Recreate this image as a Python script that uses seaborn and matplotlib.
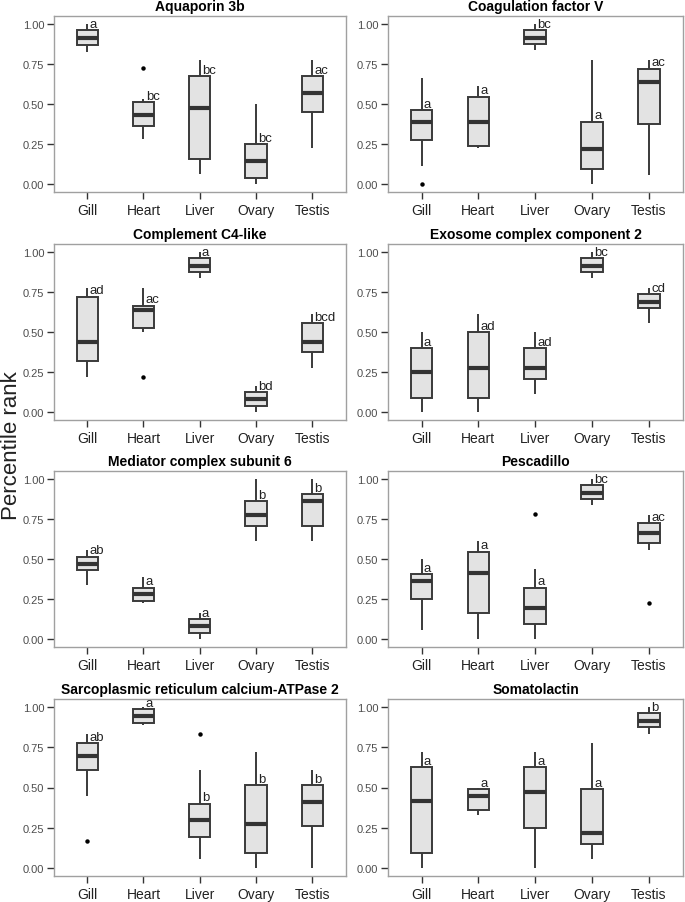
import numpy as np
import pandas as pd
import seaborn as sns
import matplotlib
matplotlib.use("Agg")
import matplotlib.pyplot as plt

tissues = ["Gill", "Heart", "Liver", "Ovary", "Testis"]
genes = ["Aquaporin 3b", "Coagulation factor V", "Complement C4-like",
         "Exosome complex component 2", "Mediator complex subunit 6",
         "Pescadillo", "Sarcoplasmic reticulum calcium-ATPase 2", "Somatolactin"]

# five-number summaries per gene (rows) and tissue (columns)
lo = [[0.825, 0.28, 0.06, 0.00, 0.225],
      [0.115, 0.225, 0.835, 0.00, 0.055],
      [0.22, 0.50, 0.835, 0.00, 0.275],
      [0.00, 0.00, 0.11, 0.835, 0.555],
      [0.335, 0.225, 0.00, 0.61, 0.61],
      [0.055, 0.00, 0.00, 0.835, 0.555],
      [0.445, 0.89, 0.055, 0.00, 0.00],
      [0.00, 0.33, 0.00, 0.055, 0.835]]
q1 = [[0.87, 0.365, 0.155, 0.04, 0.45],
      [0.275, 0.235, 0.875, 0.095, 0.375],
      [0.32, 0.525, 0.875, 0.04, 0.375],
      [0.09, 0.09, 0.205, 0.875, 0.65],
      [0.43, 0.235, 0.04, 0.705, 0.705],
      [0.25, 0.165, 0.095, 0.875, 0.60],
      [0.61, 0.90, 0.19, 0.09, 0.26],
      [0.09, 0.36, 0.25, 0.15, 0.875]]
med = [[0.915, 0.43, 0.475, 0.145, 0.57],
       [0.39, 0.39, 0.915, 0.22, 0.635],
       [0.44, 0.64, 0.915, 0.08, 0.44],
       [0.25, 0.275, 0.275, 0.915, 0.69],
       [0.47, 0.28, 0.08, 0.775, 0.86],
       [0.36, 0.415, 0.195, 0.915, 0.665],
       [0.695, 0.945, 0.30, 0.275, 0.41],
       [0.415, 0.445, 0.47, 0.22, 0.915]]
q3 = [[0.96, 0.51, 0.675, 0.25, 0.675],
      [0.46, 0.545, 0.96, 0.39, 0.72],
      [0.72, 0.665, 0.96, 0.125, 0.555],
      [0.40, 0.50, 0.40, 0.96, 0.735],
      [0.515, 0.32, 0.125, 0.86, 0.905],
      [0.405, 0.545, 0.32, 0.96, 0.725],
      [0.775, 0.985, 0.40, 0.515, 0.515],
      [0.625, 0.49, 0.625, 0.49, 0.96]]
hi = [[1.00, 0.53, 0.775, 0.50, 0.775],
      [0.665, 0.61, 1.00, 0.775, 0.775],
      [0.775, 0.775, 1.00, 0.165, 0.61],
      [0.50, 0.61, 0.50, 1.00, 0.775],
      [0.555, 0.39, 0.165, 1.00, 1.00],
      [0.50, 0.61, 0.44, 1.00, 0.775],
      [0.83, 1.00, 0.61, 0.72, 0.61],
      [0.72, 0.50, 0.72, 0.775, 1.00]]
letters = [["a", "bc", "bc", "bc", "ac"],
           ["a", "a", "bc", "a", "ac"],
           ["ad", "ac", "a", "bd", "bcd"],
           ["a", "ad", "ad", "bc", "cd"],
           ["ab", "a", "a", "b", "b"],
           ["a", "a", "a", "bc", "ac"],
           ["ab", "a", "b", "b", "b"],
           ["a", "a", "a", "a", "b"]]
# outliers: (gene index, tissue, value)
out_gene = [0, 1, 2, 5, 5, 6, 6]
out_tissue = ["Heart", "Gill", "Heart", "Liver", "Testis", "Gill", "Liver"]
out_value = [0.725, 0.0, 0.22, 0.78, 0.225, 0.165, 0.83]

plt.rcParams["font.family"] = ["Liberation Sans", "DejaVu Sans"]
fig = plt.figure(figsize=(6.85, 9.03), dpi=100)

W, H = 685, 903
lefts = [54, 388]
rights = [346, 683]
tops = [17, 245, 472, 700]
bottoms = [193, 421, 648, 877]

for g, gene in enumerate(genes):
    r, c = divmod(g, 2)
    ax = fig.add_axes([lefts[c] / W, 1 - bottoms[r] / H,
                       (rights[c] - lefts[c]) / W, (bottoms[r] - tops[r]) / H])
    rows = []
    for t, tissue in enumerate(tissues):
        for v in (lo[g][t], q1[g][t], med[g][t], q3[g][t], hi[g][t]):
            rows.append((tissue, v))
    df = pd.DataFrame(rows, columns=["Tissue", "Rank"])
    sns.boxplot(data=df, x="Tissue", y="Rank", order=tissues, ax=ax,
                whis=(0, 100), showfliers=False, showcaps=False, width=0.38,
                color="#E3E3E3", linecolor="#3A3A3A", linewidth=1.4,
                medianprops=dict(linewidth=3, color="#333333"))
    odf = pd.DataFrame({"Tissue": [t for gi, t in zip(out_gene, out_tissue) if gi == g],
                        "Rank": [v for gi, v in zip(out_gene, out_value) if gi == g]})
    if len(odf):
        sns.stripplot(data=odf, x="Tissue", y="Rank", order=tissues, ax=ax,
                      jitter=False, color="black", size=3.2)
    for t in range(len(tissues)):
        ax.text(t + 0.04, q3[g][t] + 0.003, letters[g][t], ha="left",
                va="bottom", fontsize=9.5, color="#222222")
    ax.set_xlim(-0.59, 4.6)
    ax.set_ylim(-0.05, 1.05)
    ax.set_yticks([0, 0.25, 0.5, 0.75, 1.0])
    ax.set_yticklabels(["0.00", "0.25", "0.50", "0.75", "1.00"])
    ax.set_xlabel("")
    ax.set_ylabel("")
    ax.set_title(gene, fontsize=10, fontweight="bold", pad=4)
    for s in ax.spines.values():
        s.set_color("#A0A0A0")
        s.set_linewidth(1)
    ax.tick_params(axis="y", length=5, width=1, color="#333333",
                   labelsize=8, labelcolor="#4D4D4D", pad=2)
    ax.tick_params(axis="x", length=5, width=1, color="#333333",
                   labelsize=10, labelcolor="#222222", pad=3)

fig.text(0.001, 0.506, "Percentile rank", rotation=90, ha="left",
         va="center", fontsize=16, color="#222222")

fig.savefig("out.png", dpi=100)
